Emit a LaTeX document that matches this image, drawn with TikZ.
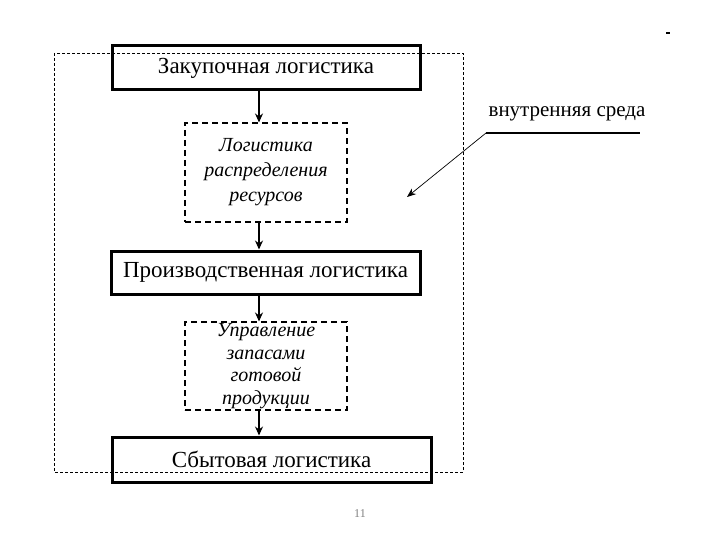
\documentclass[tikz,border=0pt]{standalone}
\usepackage{fontspec}
\setmainfont{Liberation Serif}
\usetikzlibrary{arrows.meta}
\begin{document}
\begin{tikzpicture}[x=1pt,y=-1pt,
  mainbox/.style={draw=black,line width=3pt,inner sep=0pt,font=\fontsize{23}{25}\selectfont},
  subbox/.style={draw=black,line width=1.1pt,dash pattern=on 6pt off 4pt,inner sep=0pt,align=center,font=\fontsize{20}{25}\itshape},
  flow/.style={line width=1.3pt,-{Stealth[length=9pt,width=8pt]}}]
\useasboundingbox (0,0) rectangle (720,540);
\draw[line width=0.8pt,dash pattern=on 3pt off 2pt] (54,53) rectangle (463,472);
\node[mainbox,minimum width=308,minimum height=44] (b1) at (266,68) {Закупочная логистика};
\node[subbox,minimum width=162,minimum height=99] (b2) at (266,172.5) {Логистика\\распределения\\ресурсов};
\node[mainbox,minimum width=309,minimum height=43] (b3) at (265.5,272.5) {Производственная логистика};
\node[subbox,minimum width=162,minimum height=88,font=\fontsize{20}{22.7}\itshape] (b4) at (266,366) {Управление\\запасами\\готовой\\продукции};
\node[mainbox,minimum width=319,minimum height=45] (b5) at (271.5,459.5) {Сбытовая логистика};
\coordinate (ax) at (259,0);
\draw[flow] (b1.south -| ax) -- (b2.north -| ax);
\draw[flow] (b2.south -| ax) -- (b3.north -| ax);
\draw[flow] (b3.south -| ax) -- (b4.north -| ax);
\draw[flow] (b4.south -| ax) -- (b5.north -| ax);
\node[inner sep=0pt,font=\fontsize{21}{23}\selectfont] (env) at (567,114) {внутренняя среда};
\coordinate (lstart) at (486,133);
\coordinate (lend) at (640,133);
\coordinate (tip) at (407,197);
\draw[line width=2.2pt] (lstart) -- (lend);
\draw[line width=0.7pt,-{Stealth[length=9pt,width=7pt]}] (lstart) -- (tip);
\node[inner sep=0pt,text=gray,font=\fontsize{12}{14}\selectfont] (pg) at (360,514) {11};
\draw[line width=1.5pt] (666,33) -- (670,33);
\end{tikzpicture}
\end{document}
